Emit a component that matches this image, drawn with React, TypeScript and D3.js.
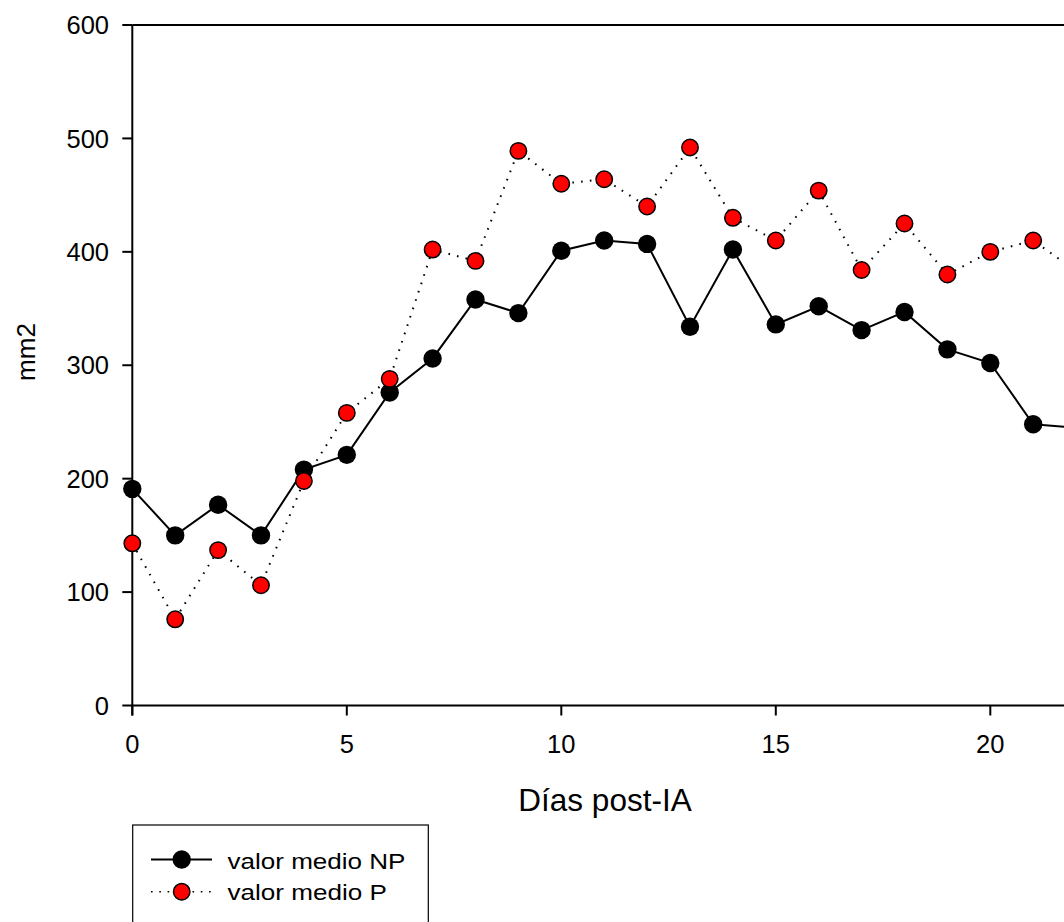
import React from "react";
import * as d3 from "d3";

const days = [0, 1, 2, 3, 4, 5, 6, 7, 8, 9, 10, 11, 12, 13, 14, 15, 16, 17, 18, 19, 20, 21, 22];
const npValues = [191, 150, 177, 150, 208, 221, 276, 306, 358, 346, 401, 410, 407, 334, 402, 336, 352, 331, 347, 314, 302, 248, 245];
const pValues = [143, 76, 137, 106, 198, 258, 288, 402, 392, 489, 460, 464, 440, 492, 430, 410, 454, 384, 425, 380, 400, 410, 383];
const xTicks = [0, 5, 10, 15, 20];
const yTicks = [0, 100, 200, 300, 400, 500, 600];
const seriesNames = ["valor medio NP", "valor medio P"];
const xTitle = "Días post-IA";
const yTitle = "mm2";

const W = 1064;
const H = 922;
const FONT = "'Liberation Sans', Arial, Helvetica, sans-serif";

export default function App() {
  const x = d3.scaleLinear().domain([0, 22]).range([132.3, 132.3 + 22 * 42.9]);
  const y = d3.scaleLinear().domain([0, 600]).range([705.5, 25]);
  const line = d3
    .line<number>()
    .x((_, i) => x(days[i]))
    .y((d) => y(d));

  const x0 = x(0);
  const yBase = y(0);
  const yTop = y(600);
  const tickFs = 25.5;

  return (
    <svg
      width={W}
      height={H}
      style={{ position: "absolute", left: 0, top: 0, background: "#fff" }}
      fontFamily={FONT}
    >
      <rect x={0} y={0} width={W} height={H} fill="#fff" />
      {/* frame / axes */}
      <line x1={x0} x2={x(22)} y1={yBase} y2={yBase} stroke="#000" strokeWidth={2} />
      <line x1={x0} x2={x(22)} y1={yTop} y2={yTop} stroke="#000" strokeWidth={2} />
      <line x1={x0} x2={x0} y1={yTop} y2={yBase + 10} stroke="#000" strokeWidth={2} />
      {yTicks.map((t) => (
        <g key={"y" + t}>
          <line x1={x0 - 10} x2={x0} y1={y(t)} y2={y(t)} stroke="#000" strokeWidth={2} />
          <text
            x={109}
            y={y(t) + tickFs * 0.358}
            textAnchor="end"
            fontSize={tickFs}
            fill="#000"
          >
            {t}
          </text>
        </g>
      ))}
      {xTicks.map((t) => (
        <g key={"x" + t}>
          <line x1={x(t)} x2={x(t)} y1={yBase} y2={yBase + 10} stroke="#000" strokeWidth={2} />
          <text x={x(t)} y={753} textAnchor="middle" fontSize={tickFs} fill="#000">
            {t}
          </text>
        </g>
      ))}
      <text x={605} y={811} textAnchor="middle" fontSize={31.5} fill="#000">
        {xTitle}
      </text>
      <text
        transform={`translate(35,352) rotate(-90)`}
        textAnchor="middle"
        fontSize={26}
        fill="#000"
      >
        {yTitle}
      </text>

      {/* series P (dotted, red) */}
      <path
        d={line(pValues) || ""}
        fill="none"
        stroke="#000"
        strokeWidth={2}
        strokeDasharray="1.6 7.2"
      />
      {/* series NP (solid, black) */}
      <path d={line(npValues) || ""} fill="none" stroke="#000" strokeWidth={2} />
      {npValues.map((v, i) => (
        <circle key={"np" + i} cx={x(days[i])} cy={y(v)} r={9.2} fill="#000" />
      ))}
      {pValues.map((v, i) => (
        <circle
          key={"p" + i}
          cx={x(days[i])}
          cy={y(v)}
          r={8.2}
          fill="#ff0000"
          stroke="#000"
          strokeWidth={1.5}
        />
      ))}

      {/* legend */}
      <rect x={132.7} y={825} width={295.6} height={120} fill="#fff" stroke="#000" strokeWidth={1.2} />
      <line x1={151} x2={212} y1={859.5} y2={859.5} stroke="#000" strokeWidth={2} />
      <circle cx={181.7} cy={859.5} r={9.2} fill="#000" />
      <line
        x1={151}
        x2={212}
        y1={891.7}
        y2={891.7}
        stroke="#000"
        strokeWidth={1.6}
        strokeDasharray="1.6 6.7"
      />
      <circle cx={181.7} cy={891.7} r={8.2} fill="#ff0000" stroke="#000" strokeWidth={1.5} />
      <text
        x={227.5}
        y={869.3}
        fontSize={21.5}
        textLength={178}
        lengthAdjust="spacingAndGlyphs"
        fill="#000"
      >
        {seriesNames[0]}
      </text>
      <text
        x={227.5}
        y={900}
        fontSize={21.5}
        textLength={159.5}
        lengthAdjust="spacingAndGlyphs"
        fill="#000"
      >
        {seriesNames[1]}
      </text>
    </svg>
  );
}
